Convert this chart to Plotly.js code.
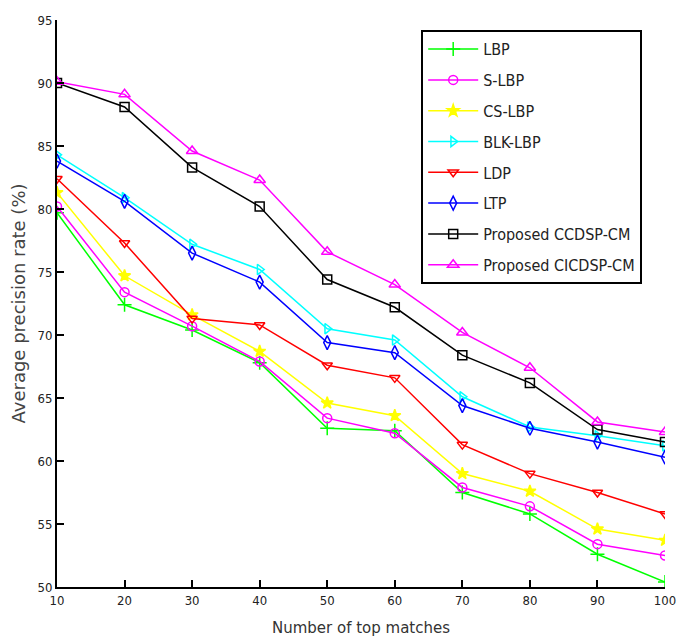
<!DOCTYPE html>
<html>
<head>
<meta charset="utf-8">
<script src="https://cdn.plot.ly/plotly-3.0.1.min.js"></script>
<style>html,body{margin:0;padding:0;background:#fff;}#chart{width:678px;height:638px;}</style>
</head>
<body>
<div id="chart"></div>
<script>
const topMatches = [10, 20, 30, 40, 50, 60, 70, 80, 90, 100];
const seriesNames = ["LBP", "S-LBP", "CS-LBP", "BLK-LBP", "LDP", "LTP", "Proposed CCDSP-CM", "Proposed CICDSP-CM"];
const lbp      = [79.7, 72.4, 70.4, 67.8, 62.6, 62.4, 57.5, 55.8, 52.6, 50.4];
const sLbp     = [80.2, 73.4, 70.7, 67.9, 63.4, 62.2, 57.9, 56.4, 53.4, 52.5];
const csLbp    = [81.3, 74.7, 71.6, 68.7, 64.6, 63.6, 59.0, 57.6, 54.6, 53.7];
const blkLbp   = [84.3, 80.9, 77.2, 75.2, 70.5, 69.6, 65.1, 62.7, 62.0, 61.2];
const ldp      = [82.4, 77.3, 71.3, 70.8, 67.6, 66.6, 61.3, 59.0, 57.5, 55.8];
const ltp      = [83.8, 80.6, 76.5, 74.2, 69.4, 68.6, 64.4, 62.6, 61.5, 60.3];
const ccdspCm  = [90.0, 88.1, 83.3, 80.2, 74.4, 72.2, 68.4, 66.2, 62.5, 61.5];
const cicdspCm = [90.1, 89.1, 84.6, 82.3, 76.6, 74.0, 70.2, 67.4, 63.1, 62.3];
const yTicks = [50, 55, 60, 65, 70, 75, 80, 85, 90, 95];
const xTicks = [10, 20, 30, 40, 50, 60, 70, 80, 90, 100];

const values = [lbp, sLbp, csLbp, blkLbp, ldp, ltp, ccdspCm, cicdspCm];
const colors = ["#00ff00", "#ff00ff", "#ffff00", "#00ffff", "#ff0000", "#0000ff", "#000000", "#ff00ff"];
const symbols = ["cross-thin-open", "circle-open", "star", "triangle-right-open", "triangle-down-open", "diamond-tall-open", "square-open", "triangle-up-open"];
const sizes = [10, 9, 9, 9, 9, 10, 9, 10];

const traces = values.map((v, i) => ({
  x: topMatches, y: v, name: seriesNames[i], type: "scatter", mode: "lines+markers",
  legendgroup: "g" + i,
  line: {color: colors[i], width: 1.5},
  marker: {symbol: symbols[i], size: sizes[i], color: colors[i], line: {color: colors[i], width: 1.5}}
}));

const tickFont = {family: "DejaVu Sans Condensed, DejaVu Sans, sans-serif", size: 13, color: "#222"};
const layout = {
  width: 678, height: 638,
  margin: {l: 57, r: 13, t: 20, b: 51},
  paper_bgcolor: "#fff", plot_bgcolor: "#fff",
  font: tickFont,
  showlegend: true,
  legend: {
    x: 0.599, y: 0.982, xanchor: "left", yanchor: "top",
    bgcolor: "#fff", bordercolor: "#000", borderwidth: 2,
    itemwidth: 50,
    tracegroupgap: 7, font: {family: "DejaVu Sans Condensed, DejaVu Sans, sans-serif", size: 16, color: "#222"}
  },
  xaxis: {
    range: [10, 100], tickvals: xTicks, ticktext: xTicks.map(String),
    showgrid: false, zeroline: false, showline: true, linecolor: "#000", linewidth: 2,
    ticks: "inside", ticklen: 7, tickwidth: 2, tickcolor: "#000", tickfont: tickFont,
    title: {text: "Number of top matches", font: {family: "DejaVu Sans, sans-serif", size: 15, color: "#333"}, standoff: 16}
  },
  yaxis: {
    range: [50, 95], tickvals: yTicks, ticktext: yTicks.map(String),
    showgrid: false, zeroline: false, showline: true, linecolor: "#000", linewidth: 2,
    ticks: "inside", ticklen: 7, tickwidth: 2, tickcolor: "#000", tickfont: tickFont,
    title: {text: "Average precision rate (%)", font: {family: "DejaVu Sans, sans-serif", size: 18, color: "#444"}, standoff: 7}
  }
};
Plotly.newPlot("chart", traces, layout, {displayModeBar: false, staticPlot: true});
</script>
</body>
</html>
